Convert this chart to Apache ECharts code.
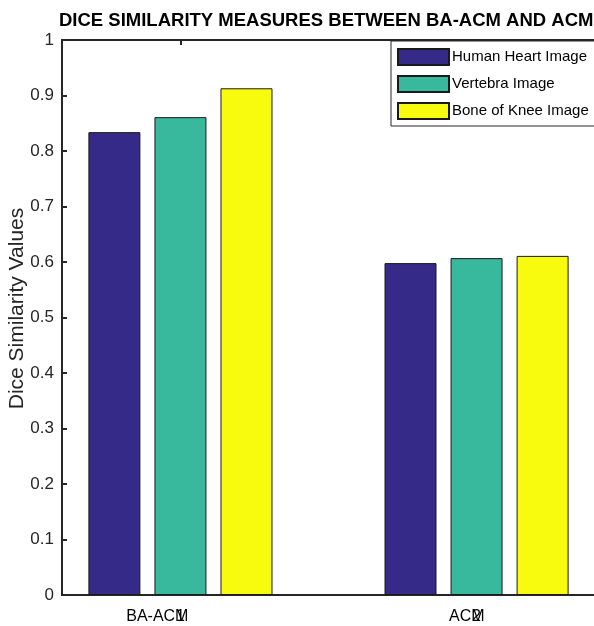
<!DOCTYPE html>
<html>
<head>
<meta charset="utf-8">
<script src="https://cdn.jsdelivr.net/npm/echarts@6/dist/echarts.min.js"></script>
<style>html,body{margin:0;padding:0;background:#fff}#c{width:594px;height:626px}</style>
</head>
<body>
<div id="c"></div>
<script>
const categories = ['BA-ACM', 'ACM'];
const categoryPositions = [1, 2];
const tickNumbers = ['1', '2'];
const seriesNames = ['Human Heart Image', 'Vertebra Image', 'Bone of Knee Image'];
const humanHeart = [0.834, 0.598];
const vertebra = [0.861, 0.607];
const boneKnee = [0.913, 0.611];
const yTicks = [0, 0.1, 0.2, 0.3, 0.4, 0.5, 0.6, 0.7, 0.8, 0.9, 1];
const colors = ['#352a87', '#38b89c', '#f9fb0e'];

const txt = '#262626';
const font = 'Liberation Sans, Arial, Helvetica, sans-serif';
const chart = echarts.init(document.getElementById('c'));
const seriesData = [humanHeart, vertebra, boneKnee];
const labelShift = 0.027;

chart.setOption({
  animation: false,
  textStyle: { fontFamily: font, color: txt },
  title: {
    text: 'DICE SIMILARITY MEASURES BETWEEN BA-ACM AND ACM',
    left: 54, top: 6,
    textStyle: { fontFamily: font, fontSize: 18.5, fontWeight: 'bold', color: '#000' }
  },
  grid: { left: 62, top: 40, right: -1, bottom: 31, show: true, borderColor: txt, borderWidth: 2, backgroundColor: '#fff', containLabel: false, outerBoundsMode: 'none' },
  legend: {
    orient: 'vertical', left: 391, top: 41,
    data: seriesNames,
    icon: 'rect',
    itemWidth: 51, itemHeight: 16, itemGap: 9,
    padding: [7, 40, 6, 6],
    backgroundColor: '#fff', borderColor: txt, borderWidth: 1,
    textStyle: { fontFamily: font, fontSize: 15, color: '#000', padding: [0, 0, 0, -2] }
  },
  xAxis: [
    {
      type: 'value', min: 0.6, max: 2.4, position: 'bottom',
      axisLine: { show: true, lineStyle: { color: txt, width: 2 } },
      axisTick: { show: false },
      splitLine: { show: false },
      axisLabel: {
        customValues: categoryPositions.map(v => v + labelShift),
        formatter: v => categories[Math.round(v) - 1],
        align: 'right', margin: 14, fontSize: 16, color: '#000', fontFamily: font
      }
    },
    {
      type: 'value', min: 0.6, max: 2.4, position: 'bottom',
      axisLine: { show: false }, splitLine: { show: false },
      axisTick: { show: true, inside: true, length: 5, customValues: categoryPositions, lineStyle: { color: txt, width: 2 } },
      axisLabel: {
        customValues: categoryPositions,
        formatter: v => tickNumbers[Math.round(v) - 1],
        margin: 14, fontSize: 16, color: '#000', fontFamily: font
      }
    },
    {
      type: 'value', min: 0.6, max: 2.4, position: 'top',
      axisLine: { show: false }, splitLine: { show: false },
      axisTick: { show: true, inside: true, length: 5, customValues: categoryPositions, lineStyle: { color: txt, width: 2 } },
      axisLabel: { show: false }
    }
  ],
  yAxis: {
    type: 'value', min: 0, max: 1, interval: 0.1,
    name: 'Dice Similarity Values', nameLocation: 'middle', nameGap: 34, nameMoveOverlap: false,
    nameTextStyle: { fontFamily: font, fontSize: 21, color: txt, padding: [0, 0, 0, 18] },
    axisLine: { show: true, lineStyle: { color: txt, width: 2 } },
    axisTick: { show: true, inside: true, length: 5, lineStyle: { color: txt, width: 2 } },
    splitLine: { show: false },
    axisLabel: { margin: 8, fontSize: 17, color: txt, fontFamily: font, formatter: v => String(+v.toFixed(1)) }
  },
  series: seriesNames.map((name, i) => ({
    name, type: 'bar', xAxisIndex: 0,
    barWidth: 52, barGap: '27%',
    itemStyle: { color: colors[i], borderColor: '#1a1a1a', borderWidth: 1 },
    data: categoryPositions.map((x, j) => [x, seriesData[i][j]])
  }))
});
</script>
</body>
</html>
